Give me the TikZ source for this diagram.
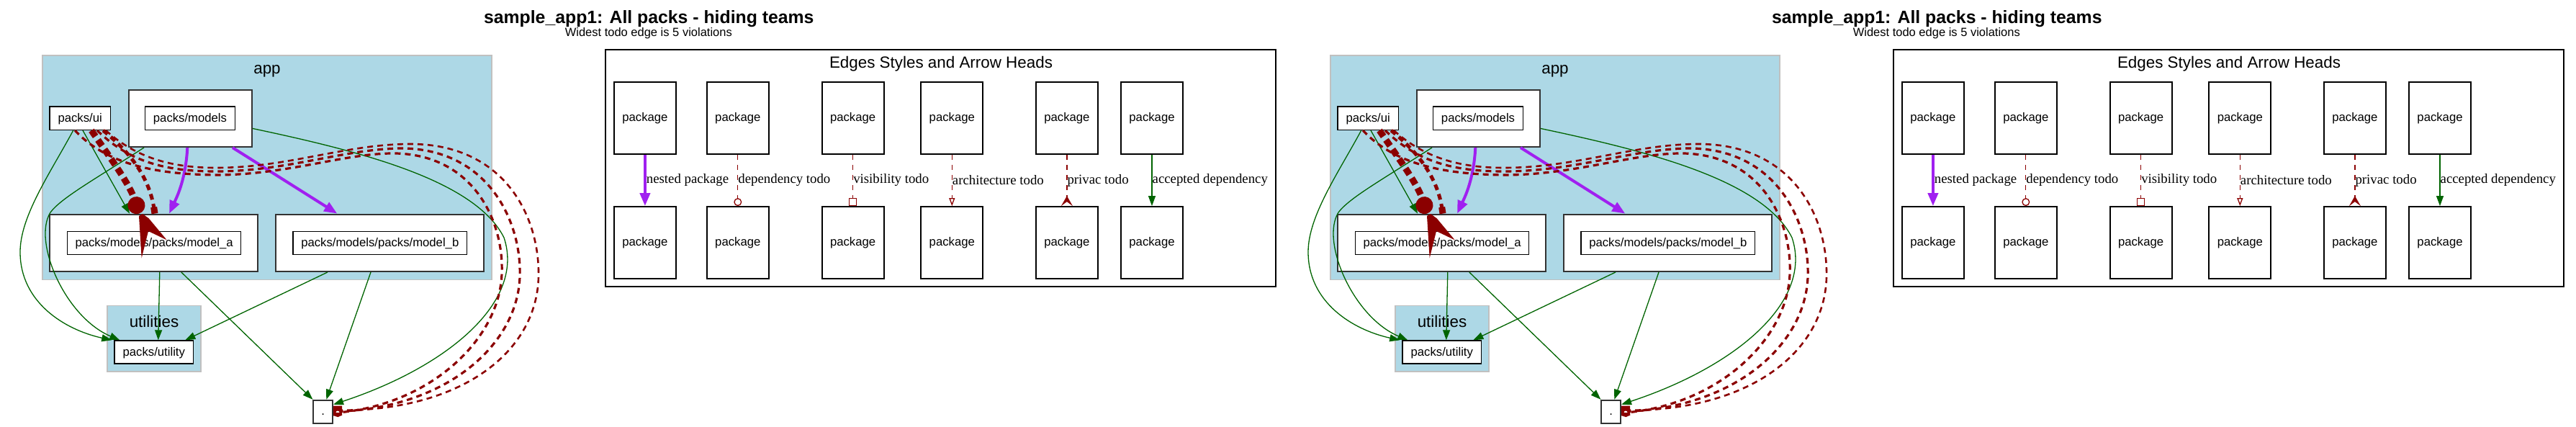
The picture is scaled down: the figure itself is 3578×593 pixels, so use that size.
\documentclass[tikz,border=0pt]{standalone}
\usepackage{fontspec}
\setmainfont{Liberation Sans}
\newfontfamily\edgefont{Liberation Serif}
\usetikzlibrary{positioning, arrows.meta}

\definecolor{clusterblue}{HTML}{ADD8E6}
\definecolor{clusterline}{HTML}{C0C0C0}
\definecolor{nestcol}{HTML}{A020F0}
\definecolor{todocol}{HTML}{8B0000}
\definecolor{okcol}{HTML}{006400}
\definecolor{boxline}{HTML}{333333}

\tikzset{
    pack/.style={draw=black, fill=white, line width=0.65pt, inner sep=0pt, text height=0.72em, text depth=0.22em, font=\fontsize{8.35}{10}\selectfont},
    outerpack/.style={draw=boxline, fill=white, line width=1pt, inner sep=0pt},
    legendpack/.style={pack, line width=0.9pt, minimum width=43pt, minimum height=50pt},
    cluster/.style={fill=clusterblue, draw=clusterline, line width=0.9pt},
    clusterlabel/.style={font=\fontsize{11.2}{13}\selectfont},
    nested/.style={draw=nestcol, line width=2pt, -{Triangle[length=9pt, width=7pt]}},
    accepted/.style={draw=okcol, line width=0.65pt, -{Triangle[length=7pt, width=5pt]}},
    todo/.style={draw=todocol, dash pattern=on 4pt off 3pt},
    todothin/.style={todo, line width=0.65pt, dash pattern=on 3.5pt off 3.5pt},
    edgelabel/.style={midway, right, inner sep=0pt, font=\edgefont\fontsize{9.4}{11}\selectfont}
}

\begin{document}
\begin{tikzpicture}[x=0.5pt, y=-0.5pt]
    \useasboundingbox (0,0) rectangle (3578,593);
    \foreach \dx/\pre in {0pt/L, 894.5pt/R} {
    \begin{scope}[xshift=\dx, name prefix=\pre-]
        \node[anchor=west, font=\bfseries\fontsize{12.4}{14}\selectfont] (title) at (665,26) {sample\_app1: All packs - hiding teams};
        \node[anchor=west, font=\fontsize{8.25}{10}\selectfont] (subtitle) at (777.7,46) {Widest todo edge is 5 violations};

        % clusters
        \draw[cluster] (58.6,76.8) rectangle (683,388.4);
        \node[clusterlabel] (applabel) at (371,99) {app};
        \draw[cluster] (148.7,424.5) rectangle (279.3,516.2);
        \node[clusterlabel] (utillabel) at (214,446) {utilities};

        % packages
        \node[pack, minimum width=42.2pt, minimum height=16.2pt] (ui) at (111.2,164.3) {packs/ui};
        \node[outerpack, minimum width=85.8pt, minimum height=39.5pt] (models) at (264.3,164.5) {};
        \node[pack, minimum width=62.5pt, minimum height=16.2pt] (modelsin) at (264,164.3) {packs/models};
        \node[outerpack, minimum width=144.4pt, minimum height=39.7pt] (ma) at (213.8,337.3) {};
        \node[pack, minimum width=120.6pt, minimum height=16pt] (main) at (214.1,337.3) {packs/models/packs/model\_a};
        \node[outerpack, minimum width=144.4pt, minimum height=39.7pt] (mb) at (527.8,337.3) {};
        \node[pack, minimum width=120.9pt, minimum height=16pt] (mbin) at (527.8,337.3) {packs/models/packs/model\_b};
        \node[pack, minimum width=54.9pt, minimum height=16pt] (util) at (213.8,489) {packs/utility};
        \node[pack, draw=boxline, line width=0.9pt, minimum width=13.4pt, minimum height=16pt] (dot) at (448.7,571.7) {.};

        % accepted dependencies
        \draw[accepted] ([xshift=1.9pt]ui.south) -- ([xshift=-16.9pt]ma.north);
        \draw[accepted] ([xshift=-4.75pt]ui.south) .. controls (70,240) and (28,300) .. (28,350) .. controls (28,420) and (90,458) .. ([xshift=-1.5pt]util.north west);
        \draw[accepted] ([xshift=-32.15pt]models.south) .. controls (130,250) and (85,275) .. (70,295) .. controls (45,335) and (90,440) .. ([xshift=4pt]util.north west);
        \draw[accepted] ([yshift=-7pt]models.east) .. controls (500,210) and (660,250) .. (700,330) .. controls (730,420) and (620,510) .. ([yshift=5pt]dot.east);
        \draw[accepted] ([xshift=4pt]ma.south) -- ([xshift=3pt]util.north);
        \draw[accepted] ([xshift=19pt]ma.south) -- (dot.north west);
        \draw[accepted] ([xshift=-36.4pt]mb.south) -- ([xshift=-6pt]util.north east);
        \draw[accepted] ([xshift=-6.4pt]mb.south) -- ([xshift=2.3pt]dot.north);

        % nested packages
        \draw[nested] ([xshift=-2pt]models.south) .. controls (258,250) and (245,275) .. ([xshift=10.6pt]ma.north);
        \draw[nested] ([xshift=29.35pt]models.south) -- ([xshift=-29.75pt]mb.north);

        % todos
        \draw[todo, line width=1.6pt, -{Circle[open, length=6pt]}] ([xshift=-3.6pt]ui.south) .. controls (150,230) and (220,242) .. (300,243) .. controls (400,243) and (480,212) .. (550,213) .. controls (660,216) and (700,310) .. (697,380) .. controls (694,470) and (600,560) .. ([yshift=-1pt]dot.east);
        \draw[todo, line width=1.6pt, -{Square[open, length=6pt, width=6pt]}] ([xshift=11.9pt]ui.south) .. controls (180,225) and (230,238) .. (300,238) .. controls (400,238) and (480,206) .. (560,206) .. controls (680,208) and (725,310) .. (722,385) .. controls (718,480) and (620,565) .. (dot.east);
        \draw[todo, line width=1.3pt, -{Square[open, length=6pt, width=6pt]}] ([xshift=17.9pt]ui.south) .. controls (190,220) and (240,233) .. (300,233) .. controls (400,233) and (480,200) .. (570,200) .. controls (700,200) and (750,300) .. (748,385) .. controls (745,490) and (640,570) .. ([yshift=1pt]dot.east);
        \draw[todo, line width=2.5pt, -{Square[open, length=4.5pt, width=4.5pt]}] ([xshift=16pt]ui.south) .. controls (185,215) and (208,250) .. ([xshift=0.6pt]ma.north);
        \fill[todocol] (198,297) -- (206.7,303.3) -- (231.7,333.3) -- (206,321) -- (196.7,358.3) -- (193,300) -- cycle;
        \draw[todo, line width=4.5pt, dash pattern=on 5pt off 3pt, -{Circle[length=12pt]}] ([xshift=7.9pt]ui.south) .. controls (150,215) and (180,255) .. ([xshift=-10.4pt]ma.north);

        % legend
        \draw[line width=0.65pt] (841,69) rectangle (1772,398);
        \node[clusterlabel] (legendtitle) at (1307,89) {Edges Styles and Arrow Heads};
        \node[legendpack] (nest1) at (895.9,164) {package};
        \node[legendpack] (nest2) at (895.9,337) {package};
        \node[legendpack] (dep1) at (1024.8,164) {package};
        \node[legendpack] (dep2) at (1024.8,337) {package};
        \node[legendpack] (vis1) at (1184.6,164) {package};
        \node[legendpack] (vis2) at (1184.6,337) {package};
        \node[legendpack] (arch1) at (1322.3,164) {package};
        \node[legendpack] (arch2) at (1322.3,337) {package};
        \node[legendpack] (priv1) at (1481.9,164) {package};
        \node[legendpack] (priv2) at (1481.9,337) {package};
        \node[legendpack] (acc1) at (1600,164) {package};
        \node[legendpack] (acc2) at (1600,337) {package};

        \draw[nested] (nest1) -- (nest2) node[edgelabel] {nested package};
        \draw[todothin, -{Circle[open, length=5.5pt]}] (dep1) -- (dep2) node[edgelabel] {dependency todo};
        \draw[todothin, -{Square[open, length=5.5pt, width=5.5pt]}] (vis1) -- (vis2) node[edgelabel] {visibility todo};
        \draw[todothin, -{Triangle[open, length=5.5pt, width=4pt]}] (arch1) -- (arch2) node[edgelabel] {architecture todo};
        \draw[todothin, -{Stealth[reversed, length=7pt, width=8pt, inset=3pt]}] (priv1) -- (priv2) node[edgelabel] {privac todo};
        \draw[accepted] (acc1) -- (acc2) node[edgelabel] {accepted dependency};
    \end{scope}
    }
\end{tikzpicture}
\end{document}
